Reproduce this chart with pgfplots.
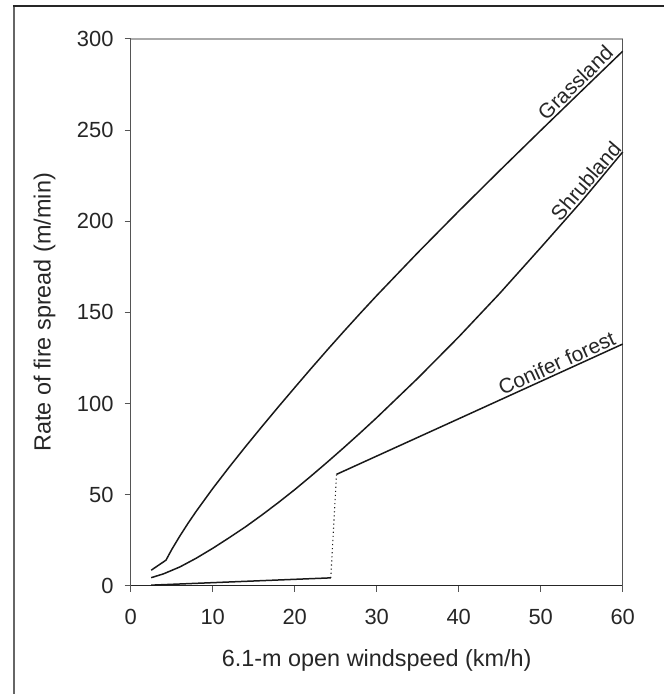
\documentclass[border=0pt]{standalone}
\usepackage{fontspec}
\setmainfont{Liberation Sans}
\usepackage{pgfplots}
\pgfplotsset{compat=1.18}
\definecolor{spine}{HTML}{555555}
\definecolor{topspine}{HTML}{AAAAAA}
\definecolor{framegray}{HTML}{666666}
\begin{document}
\begin{tikzpicture}[font=\fontsize{21}{25}\selectfont, x=1bp, y=1bp]
\useasboundingbox (-130.7bp,-108.3bp) rectangle (533.3bp,585.7bp);
% outer frame (only top and left edges visible)
\draw[framegray, line width=2bp] (-116.7bp,579.7bp) -- (-116.7bp,-110bp);
\draw[black!85, line width=1.5bp] (-117.7bp,579.7bp) -- (535bp,579.7bp);
\begin{axis}[
  at={(0,0)}, anchor=south west,
  scale only axis, width=492bp, height=546.7bp,
  xmin=0, xmax=60, ymin=0, ymax=300,
  xtick={0,10,...,60}, ytick={0,50,...,300},
  axis lines=left, axis line style={-, spine, line width=1.2bp},
  x axis line style={black!85},
  tick align=outside, major tick length=6bp,
  tick style={spine, line width=1bp},
  /pgf/number format/assume math mode=true,
  tick label style={font=\fontsize{22}{26}\selectfont, text=black!85},
  yticklabel style={anchor=east, inner sep=0pt, xshift=-11bp},
  xticklabel style={anchor=north, inner sep=0pt, yshift=-17bp},
  xlabel={6.1-m open windspeed (km/h)},
  ylabel={Rate of fire spread (m/min)},
  every axis x label/.style={at={(axis description cs:0.5,-0.136)}, anchor=center, font=\fontsize{23.5}{28}\selectfont, text=black!85},
  every axis y label/.style={at={(axis description cs:-0.175,0.5)}, anchor=center, rotate=90, font=\fontsize{23.5}{28}\selectfont, text=black!85},
  clip=false,
]
% top and right axis edges
\draw[topspine, line width=1.2bp] (rel axis cs:0,1) -- (rel axis cs:1,1);
\draw[spine, line width=1.2bp] (rel axis cs:1,1) -- (rel axis cs:1,0);
% Grassland
\addplot[black!90, line width=1.5bp] coordinates {
 (2.5,8.5) (4.3,14) (5,19.8) (6,27.3) (7,34.3) (8,40.9) (10,53.3) (12,65)
 (14,76.3) (16,87.3) (18,98.1) (20,108.7) (22,119.2) (24,129.5) (26,139.6)
 (28,149.5) (30,159.2) (35,182.7) (40,205.5) (45,227.8) (50,249.8) (55,271.6)
 (60,293.3)};
% Shrubland
\addplot[black!90, line width=1.5bp] coordinates {
 (2.5,4.4) (4,6.5) (6,10.3) (8,15.1) (10,20.5) (12,26.3) (14,32.3) (16,38.8)
 (18,45.6) (20,52.7) (22,60.2) (24,67.9) (26,75.8) (28,83.9) (30,92.2)
 (35,113.8) (40,136.5) (45,160.4) (50,185.5) (55,211) (60,238)};
% Conifer forest, surface fire
\addplot[black!90, line width=1.5bp] coordinates {(2.5,0.3) (24.4,4.3)};
% transition
\addplot[black!90, line width=1.1bp, dash pattern=on 1.1bp off 3bp] coordinates {(24.4,4.3) (25.1,61)};
% Conifer forest, crown fire
\addplot[black!90, line width=1.5bp] coordinates {(25.1,61.1) (40,91.6) (60,132.6)};
\node[rotate=44.5, anchor=south, inner sep=2.5bp, text=black!85] at (axis cs:55.1,272) {Grassland};
\node[rotate=49.5, anchor=south, inner sep=2bp, text=black!85] at (axis cs:56.4,218.6) {Shrubland};
\node[rotate=24.5, anchor=south, inner sep=2bp, text=black!85] at (axis cs:52.45,117.2) {Conifer forest};
\end{axis}
\end{tikzpicture}
\end{document}
